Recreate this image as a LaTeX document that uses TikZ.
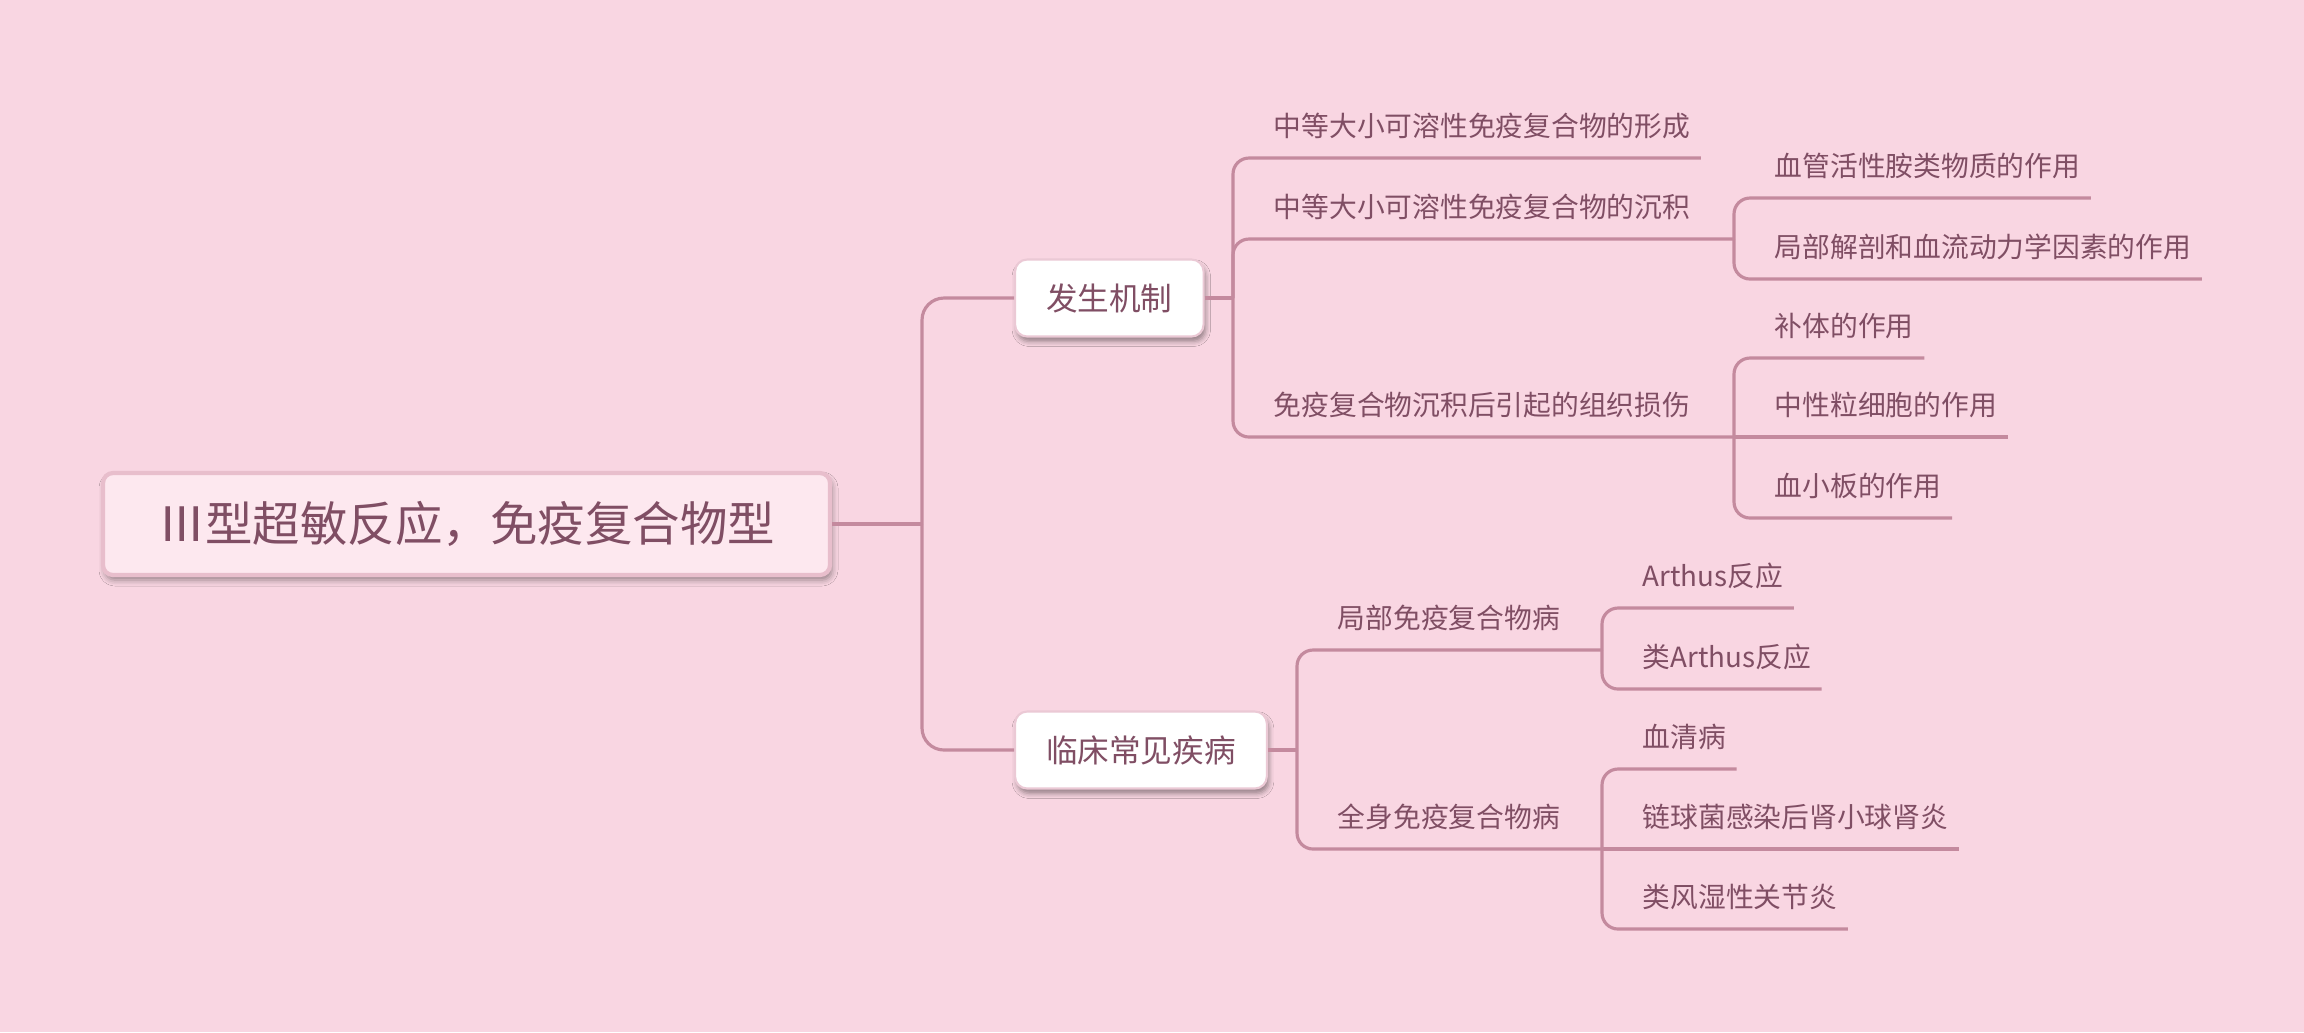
\documentclass[tikz,border=0pt]{standalone}
\usepackage{fontspec}
\newfontfamily\cjk{Noto Sans CJK SC}
\definecolor{mybg}{HTML}{F9D6E2}
\definecolor{myline}{HTML}{C48A9E}
\definecolor{mytext}{HTML}{804E64}
\definecolor{myroot}{HTML}{FDE8EF}
\definecolor{myrootedge}{HTML}{E8BECC}
\definecolor{myboxedge}{HTML}{EBC9D5}
\definecolor{myshadow}{HTML}{8E5A6E}
\usetikzlibrary{shadows, shadows.blur}
\tikzset{
	rootbox/.style={draw=myrootedge, line width=1.2pt, fill=myroot, rounded corners=0.1cm,
		minimum width=7.27cm, minimum height=1.02cm, text=mytext,
		font=\cjk\fontsize{13.5pt}{16pt}\selectfont,
		blur shadow={shadow xshift=0.02cm, shadow yshift=-0.05cm, shadow blur radius=0.06cm}}
}
\tikzset{
	topicbox/.style={draw=myboxedge, line width=0.6pt, fill=white, rounded corners=0.12cm,
		inner xsep=0.31cm, minimum height=0.77cm, text=mytext, anchor=west,
		font=\cjk\fontsize{9pt}{11pt}\selectfont,
		blur shadow={shadow xshift=0.02cm, shadow yshift=-0.05cm, shadow blur radius=0.05cm}}
}
\tikzset{
	leaftext/.style={anchor=south west, inner xsep=0.1cm, inner ysep=0pt, text depth=0.21cm,
		text=mytext, font=\cjk\fontsize{7.9pt}{9.5pt}\selectfont}
}
\tikzset{
	branch/.style={draw=myline, line width=0.9pt},
	bracket/.style={branch, rounded corners=0.16cm}
}

\begin{document}
\begin{tikzpicture}
      \useasboundingbox (0,0) rectangle (23.04,-10.32);
      \fill[mybg] (0,0) rectangle (23.04,-10.32);

      % central topic and its two main branches
      \node[rootbox] (root) at (4.665,-5.24) {Ⅲ型超敏反应，免疫复合物型};
      \coordinate (j0) at (9.22,-5.24);
      \node[topicbox] (mech) at (10.14,-2.98) {发生机制};
      \node[topicbox] (clin) at (10.14,-7.50) {临床常见疾病};
      \draw[branch] (root) -- (j0);
      \draw[branch, rounded corners=0.22cm] (j0) |- (mech);
      \draw[branch, rounded corners=0.22cm] (j0) |- (clin);

      % mechanism
      \coordinate (j1) at (12.33,-2.98);
      \coordinate (j2) at (17.34,-2.39);
      \coordinate (j3) at (17.34,-4.37);
      \node[leaftext] (c11) at (12.63,-1.58) {中等大小可溶性免疫复合物的形成};
      \node[leaftext] (c12) at (12.63,-2.39) {中等大小可溶性免疫复合物的沉积};
      \node[leaftext] (c13) at (12.63,-4.37) {免疫复合物沉积后引起的组织损伤};
      \draw[branch] (mech) -- (j1);
      \draw[bracket] (j1) |- (c11.south east);
      \draw[bracket] (j1) |- (j2);
      \draw[bracket] (j1) |- (j3);

      % deposition factors
      \node[leaftext] (g21) at (17.64,-1.98) {血管活性胺类物质的作用};
      \node[leaftext] (g22) at (17.64,-2.79) {局部解剖和血流动力学因素的作用};
      \draw[bracket] (j2) |- (g21.south east);
      \draw[bracket] (j2) |- (g22.south east);

      % tissue damage
      \node[leaftext] (g31) at (17.64,-3.58) {补体的作用};
      \node[leaftext] (g32) at (17.64,-4.37) {中性粒细胞的作用};
      \node[leaftext] (g33) at (17.64,-5.18) {血小板的作用};
      \draw[bracket] (j3) |- (g31.south east);
      \draw[branch] (j3) -- (g32.south east);
      \draw[bracket] (j3) |- (g33.south east);

      % clinical diseases
      \coordinate (j4) at (12.97,-7.50);
      \coordinate (j5) at (16.02,-6.50);
      \coordinate (j6) at (16.02,-8.49);
      \node[leaftext] (d1) at (13.27,-6.50) {局部免疫复合物病};
      \node[leaftext] (d2) at (13.27,-8.49) {全身免疫复合物病};
      \draw[branch] (clin) -- (j4);
      \draw[bracket] (j4) |- (j5);
      \draw[bracket] (j4) |- (j6);

      \node[leaftext] (e11) at (16.32,-6.08) {Arthus反应};
      \node[leaftext] (e12) at (16.32,-6.89) {类Arthus反应};
      \draw[bracket] (j5) |- (e11.south east);
      \draw[bracket] (j5) |- (e12.south east);

      \node[leaftext] (e21) at (16.32,-7.69) {血清病};
      \node[leaftext] (e22) at (16.32,-8.49) {链球菌感染后肾小球肾炎};
      \node[leaftext] (e23) at (16.32,-9.29) {类风湿性关节炎};
      \draw[bracket] (j6) |- (e21.south east);
      \draw[branch] (j6) -- (e22.south east);
      \draw[bracket] (j6) |- (e23.south east);
\end{tikzpicture}
\end{document}
